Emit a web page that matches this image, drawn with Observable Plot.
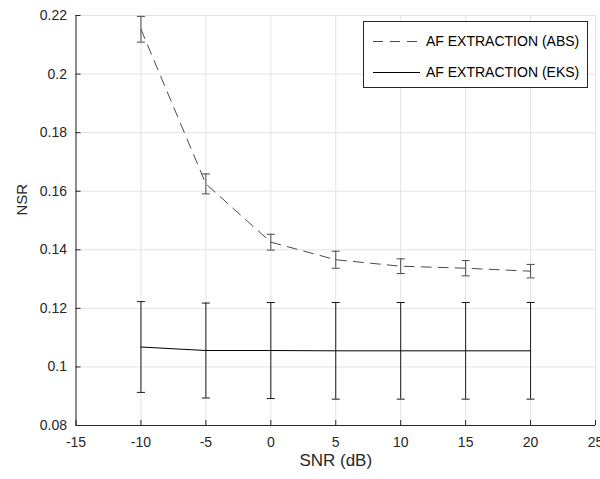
<!DOCTYPE html>
<html>
<head>
<meta charset="utf-8">
<script src="https://cdn.jsdelivr.net/npm/d3@7"></script>
<script src="https://cdn.jsdelivr.net/npm/@observablehq/plot@0.6"></script>
<style>
  html, body { margin: 0; padding: 0; background: #fff; }
  #wrap { position: relative; width: 600px; height: 479px; overflow: hidden; font-family: "Liberation Sans", Arial, sans-serif; }
  #legend { position: absolute; left: 363px; top: 21px; width: 225px; height: 67px; border: 1px solid #262626; background: #fff; box-sizing: border-box; }
  .row { position: absolute; left: 0; height: 20px; display: flex; align-items: center; font-size: 14px; color: #000; white-space: nowrap; }
  .row svg { margin-left: 9px; margin-right: 6px; }
</style>
</head>
<body>
<div id="wrap"><div id="legend"></div></div>
<script>
// ---- data ----
const snr = [-10, -5, 0, 5, 10, 15, 20];
const absMean = [0.2153, 0.1625, 0.1426, 0.1366, 0.1344, 0.1337, 0.1327];
const absErr  = [0.0044, 0.0034, 0.0027, 0.0029, 0.0025, 0.0026, 0.0023];
const eksMean = [0.1068, 0.1056, 0.1056, 0.1055, 0.1055, 0.1055, 0.1055];
const eksErr  = [0.0155, 0.0162, 0.0164, 0.0165, 0.0165, 0.0165, 0.0165];
const seriesNames = ["AF EXTRACTION (ABS)", "AF EXTRACTION (EKS)"];
const xTicks = [-15, -10, -5, 0, 5, 10, 15, 20, 25];
const yTicks = [0.08, 0.1, 0.12, 0.14, 0.16, 0.18, 0.2, 0.22];
const xLabel = "SNR (dB)";
const yLabel = "NSR";

const absData = snr.map((x, i) => ({x, y: absMean[i], lo: absMean[i] - absErr[i], hi: absMean[i] + absErr[i]}));
const eksData = snr.map((x, i) => ({x, y: eksMean[i], lo: eksMean[i] - eksErr[i], hi: eksMean[i] + eksErr[i]}));

const absColor = "#4a4a4a";
const eksColor = "#000000";
const dash = "10,7";

const cap = { draw(context) { context.moveTo(-4, 0); context.lineTo(4, 0); } };

const fmt = d => String(+d.toFixed(2));

const chart = Plot.plot({
  width: 600,
  height: 479,
  marginLeft: 75.5,
  marginRight: 5,
  marginTop: 15,
  marginBottom: 54,
  style: { fontFamily: "Liberation Sans, Arial, sans-serif", fontSize: "14px", color: "#262626", background: "white", overflow: "visible" },
  x: { domain: [-15, 25] },
  y: { domain: [0.08, 0.22] },
  marks: [
    Plot.gridX(xTicks, { stroke: "#e3e3e3", strokeOpacity: 1, strokeWidth: 1 }),
    Plot.gridY(yTicks, { stroke: "#e3e3e3", strokeOpacity: 1, strokeWidth: 1 }),
    // error bars
    Plot.ruleX(absData, { x: "x", y1: "lo", y2: "hi", stroke: absColor, strokeWidth: 1 }),
    Plot.dot(absData, { x: "x", y: "lo", symbol: cap, fill: "none", stroke: absColor, strokeWidth: 1 }),
    Plot.dot(absData, { x: "x", y: "hi", symbol: cap, fill: "none", stroke: absColor, strokeWidth: 1 }),
    Plot.ruleX(eksData, { x: "x", y1: "lo", y2: "hi", stroke: "#1a1a1a", strokeWidth: 1 }),
    Plot.dot(eksData, { x: "x", y: "lo", symbol: cap, fill: "none", stroke: "#1a1a1a", strokeWidth: 1 }),
    Plot.dot(eksData, { x: "x", y: "hi", symbol: cap, fill: "none", stroke: "#1a1a1a", strokeWidth: 1 }),
    // lines
    Plot.line(absData, { x: "x", y: "y", stroke: absColor, strokeWidth: 1, strokeDasharray: dash }),
    Plot.line(eksData, { x: "x", y: "y", stroke: eksColor, strokeWidth: 1 }),
    // axis lines
    Plot.ruleX([-15], { stroke: "#262626", strokeWidth: 1 }),
    Plot.ruleY([0.08], { stroke: "#262626", strokeWidth: 1 }),
    // inward ticks
    Plot.axisX({ ticks: xTicks, tickSize: -5, text: null, stroke: "#262626", label: null }),
    Plot.axisY({ ticks: yTicks, tickSize: -5, text: null, stroke: "#262626", label: null }),
    // tick labels
    Plot.axisX({ ticks: xTicks, tickSize: 0, tickPadding: 12, tickFormat: d => String(d), fill: "#262626", label: null, fontSize: 14 }),
    Plot.axisY({ ticks: yTicks, tickSize: 0, tickPadding: 9, tickFormat: fmt, fill: "#262626", label: null, fontSize: 14 }),
    // axis titles
    Plot.text([xLabel], { frameAnchor: "bottom", text: d => d, dy: 40, fontSize: 17, fill: "#262626" }),
    Plot.text([yLabel], { frameAnchor: "left", text: d => d, rotate: -90, dx: -54, dy: -5, fontSize: 15, fill: "#262626" })
  ]
});

document.getElementById("wrap").prepend(chart);

// legend
const legend = document.getElementById("legend");
const styles = [{ stroke: absColor, dash: dash }, { stroke: eksColor, dash: null }];
seriesNames.forEach((name, i) => {
  const row = document.createElement("div");
  row.className = "row";
  row.style.top = (i === 0 ? 9 : 40) + "px";
  const sw = d3.create("svg").attr("width", 47).attr("height", 20);
  sw.append("line").attr("x1", 0).attr("x2", 47).attr("y1", 10.5).attr("y2", 10.5)
    .attr("stroke", styles[i].stroke).attr("stroke-width", 1)
    .attr("stroke-dasharray", styles[i].dash);
  row.appendChild(sw.node());
  const t = document.createElement("span");
  t.textContent = name;
  row.appendChild(t);
  legend.appendChild(row);
});
</script>
</body>
</html>
